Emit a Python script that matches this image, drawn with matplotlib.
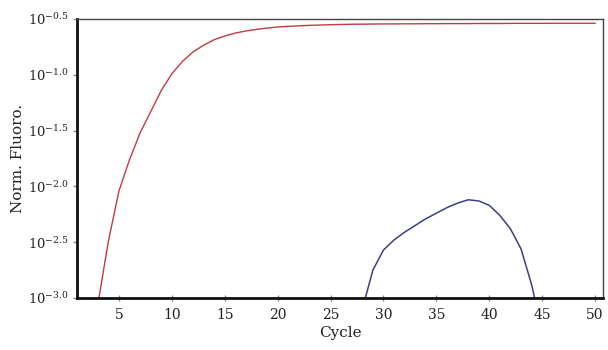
import numpy as np
import matplotlib
matplotlib.use("Agg")
import matplotlib.pyplot as plt
from matplotlib.ticker import FixedLocator, NullLocator

# Data (log10 of normalised fluorescence)
red_cycles = list(range(3, 51))
red_log = [-3.06, -2.49, -2.04, -1.76, -1.52, -1.33, -1.14, -0.99, -0.88, -0.795,
           -0.735, -0.685, -0.652, -0.626, -0.607, -0.593, -0.581, -0.572, -0.566, -0.561,
           -0.557, -0.554, -0.551, -0.549, -0.547, -0.546, -0.545, -0.544, -0.544, -0.543,
           -0.543, -0.542, -0.542, -0.541, -0.541, -0.541, -0.540, -0.540, -0.540, -0.539,
           -0.539, -0.539, -0.539, -0.538, -0.538, -0.538, -0.538, -0.538]
blue_cycles = list(range(28, 46))
blue_log = [-3.1, -2.75, -2.57, -2.48, -2.41, -2.35, -2.29, -2.24, -2.19, -2.15,
            -2.12, -2.13, -2.17, -2.26, -2.38, -2.56, -2.88, -3.3]

x_ticks = [5, 10, 15, 20, 25, 30, 35, 40, 45, 50]
y_tick_exps = [-3.0, -2.5, -2.0, -1.5, -1.0, -0.5]
y_tick_labels = [r"$\mathregular{10^{%.1f}}$" % e for e in y_tick_exps]

plt.rcParams['font.family'] = ['DejaVu Serif']
plt.rcParams['mathtext.default'] = 'regular'

fig = plt.figure(figsize=(6.08, 3.5), dpi=100)
ax = fig.add_axes([0.1266, 0.1486, 0.8652, 0.7971])

ax.plot(red_cycles, 10 ** np.array(red_log), color='#c23b44', lw=1.0)
ax.plot(blue_cycles, 10 ** np.array(blue_log), color='#3f3f85', lw=1.1)

ax.set_yscale('log')
ax.set_ylim(10 ** -3.0, 10 ** -0.5)
ax.set_xlim(1.03, 50.75)

ax.yaxis.set_major_locator(FixedLocator([10 ** e for e in y_tick_exps]))
ax.yaxis.set_minor_locator(NullLocator())
ax.set_yticklabels(y_tick_labels)
ax.set_xticks(x_ticks)

ax.tick_params(axis='both', colors='#888888', labelcolor='#222222')
ax.tick_params(axis='y', direction='out', length=3, width=1, pad=3, labelsize=9.5)
ax.tick_params(axis='x', direction='inout', length=4, width=1, pad=5, labelsize=10)

for s in ['left', 'bottom']:
    ax.spines[s].set_linewidth(2.0)
    ax.spines[s].set_color('#111111')
for s in ['top', 'right']:
    ax.spines[s].set_linewidth(1.0)
    ax.spines[s].set_color('#444444')

ax.set_xlabel('Cycle', fontsize=11, labelpad=3, color='#222222')
ax.set_ylabel('Norm. Fluoro.', fontsize=11, color='#222222')
ax.yaxis.set_label_coords(-0.099, 0.5)

fig.savefig('out.png', dpi=100)
